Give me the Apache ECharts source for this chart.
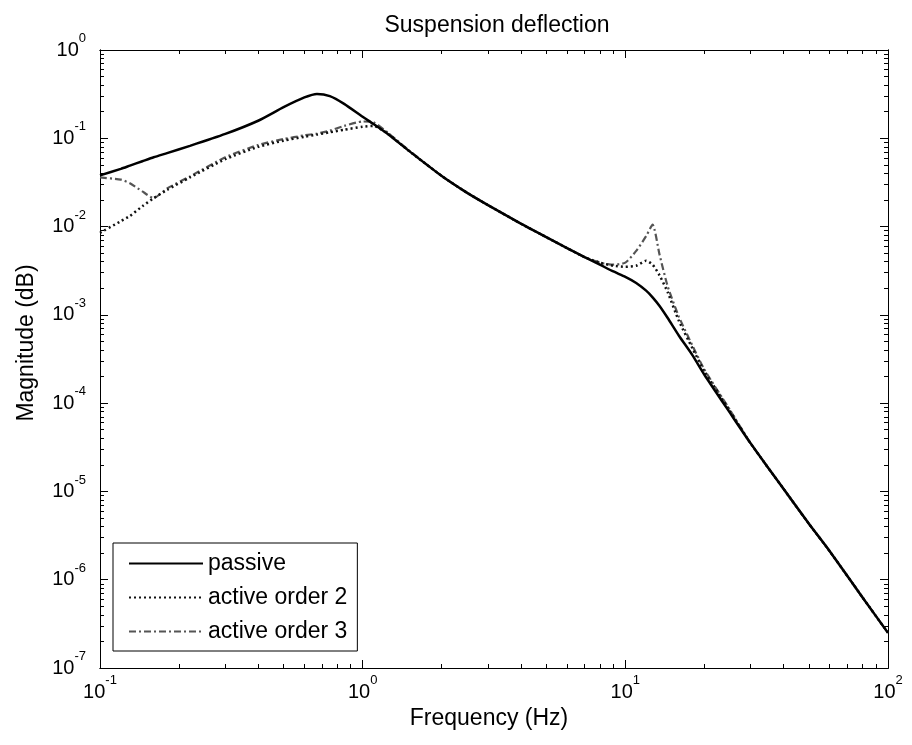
<!DOCTYPE html>
<html>
<head>
<meta charset="utf-8">
<title>Suspension deflection</title>
<script src="https://cdn.jsdelivr.net/npm/echarts@6/dist/echarts.min.js"></script>
<style>
  html, body { margin: 0; padding: 0; background: #fff; }
  #main { width: 912px; height: 745px; }
</style>
</head>
<body>
<div id="main"></div>
<script>
// frequency points (Hz)
var freq = [0.1, 0.12, 0.13, 0.145, 0.16, 0.18, 0.22, 0.3, 0.4, 0.5, 0.6, 0.67, 0.75, 0.85, 1.0, 1.1, 1.25, 1.5,
    2, 2.5, 3, 4, 5, 6, 7, 8, 9, 10, 11, 12, 12.7, 13.5, 14.5, 16, 18, 20, 25, 30, 40, 50, 60, 80, 100];

var passive = [0.038, 0.045, 0.049, 0.055, 0.061, 0.068, 0.082, 0.112, 0.158, 0.225, 0.29, 0.318, 0.30, 0.245,
    0.175, 0.145, 0.111, 0.072, 0.0374, 0.0241, 0.0175, 0.0108, 0.0076, 0.0057, 0.0045, 0.0037, 0.0031, 0.0027,
    0.0023, 0.00188, 0.00158, 0.00126, 0.00092, 0.00058, 0.00035, 0.00021, 7.8e-5, 3.5e-5, 1.07e-5, 4.3e-6,
    2.1e-6, 6.3e-7, 2.5e-7];

var activeOrder2 = [0.0085, 0.0115, 0.0132, 0.017, 0.021, 0.026, 0.036, 0.058, 0.08, 0.094, 0.104, 0.11, 0.117,
    0.125, 0.135, 0.138, 0.112, 0.072, 0.0374, 0.0241, 0.0175, 0.0108, 0.0076, 0.0057, 0.0045, 0.0039, 0.0036,
    0.0035, 0.0036, 0.0041, 0.0037, 0.0028, 0.0018, 0.00085, 0.00042, 0.00023, 8.2e-5, 3.5e-5, 1.07e-5, 4.3e-6,
    2.1e-6, 6.3e-7, 2.5e-7];

var activeOrder3 = [0.036, 0.034, 0.031, 0.025, 0.021, 0.027, 0.037, 0.061, 0.084, 0.098, 0.108, 0.113, 0.122,
    0.138, 0.155, 0.152, 0.115, 0.073, 0.0374, 0.0241, 0.0175, 0.0108, 0.0076, 0.0057, 0.0045, 0.0039, 0.0037,
    0.0039, 0.0053, 0.0078, 0.0105, 0.0048, 0.0021, 0.00095, 0.00045, 0.00024, 8.4e-5, 3.5e-5, 1.07e-5, 4.3e-6,
    2.1e-6, 6.3e-7, 2.5e-7];

// axis ticks
var xMajor = [0.1, 1, 10, 100];
var xMinor = [0.2, 0.3, 0.4, 0.5, 0.6, 0.7, 0.8, 0.9, 2, 3, 4, 5, 6, 7, 8, 9, 20, 30, 40, 50, 60, 70, 80, 90];
var yMajor = [1e-7, 1e-6, 1e-5, 1e-4, 1e-3, 1e-2, 1e-1, 1];
var yMinor = [];
for (var d = -7; d < 0; d++) {
    for (var m = 2; m <= 9; m++) {
        yMinor.push(m * Math.pow(10, d));
    }
}

var fontFamily = '"Liberation Sans", Arial, sans-serif';

function pairs(xs, ys) {
    var out = [];
    for (var i = 0; i < xs.length; i++) {
        out.push([xs[i], ys[i]]);
    }
    return out;
}

// 10^n style tick label
function powLabel(v) {
    var e = Math.round(Math.log(v) / Math.LN10);
    return '{b|10}{s|' + e + '}';
}

var richLabel = {
    b: { fontSize: 20, fontFamily: fontFamily, color: '#000', padding: [8, 0, 8, 0] },
    s: { fontSize: 13, fontFamily: fontFamily, color: '#000', verticalAlign: 'top' }
};

// one log axis; several are stacked to get the matlab box with major + minor ticks
function logAxis(pos, min, max, ticks, len, withLabels) {
    return {
        type: 'log',
        position: pos,
        min: min,
        max: max,
        logBase: 10,
        splitLine: { show: false },
        axisLine: { show: true, onZero: false, lineStyle: { color: '#000', width: 1 } },
        axisTick: { show: true, inside: true, length: len, customValues: ticks, lineStyle: { color: '#000', width: 1 } },
        minorTick: { show: false },
        axisLabel: withLabels ? {
            show: true,
            customValues: ticks,
            formatter: powLabel,
            rich: richLabel,
            margin: pos === 'left' ? 14 : 6
        } : { show: false }
    };
}

var chart = echarts.init(document.getElementById('main'));

var xAxes = [
    logAxis('bottom', 0.1, 100, xMajor, 8, true),
    logAxis('top', 0.1, 100, xMajor, 8, false),
    logAxis('bottom', 0.1, 100, xMinor, 4, false),
    logAxis('top', 0.1, 100, xMinor, 4, false)
];
xAxes[0].name = 'Frequency (Hz)';
xAxes[0].nameLocation = 'middle';
xAxes[0].nameGap = 37;
xAxes[0].nameTextStyle = { fontSize: 23, fontFamily: fontFamily, color: '#000', padding: [0, 10, 0, 0] };

var yAxes = [
    logAxis('left', 1e-7, 1, yMajor, 8, true),
    logAxis('right', 1e-7, 1, yMajor, 8, false),
    logAxis('left', 1e-7, 1, yMinor, 4, false),
    logAxis('right', 1e-7, 1, yMinor, 4, false)
];
yAxes[0].name = 'Magnitude (dB)';
yAxes[0].nameLocation = 'middle';
yAxes[0].nameGap = 62;
yAxes[0].nameTextStyle = { fontSize: 23, fontFamily: fontFamily, color: '#000', padding: [0, 0, 0, 32] };

var option = {
    animation: false,
    backgroundColor: '#fff',
    title: {
        text: 'Suspension deflection',
        left: 492,
        top: 9,
        textAlign: 'center',
        textStyle: { fontSize: 23, fontWeight: 'normal', fontFamily: fontFamily, color: '#000' }
    },
    grid: { left: 100, right: 24, top: 50, bottom: 77, containLabel: false, outerBoundsMode: 'none' },
    legend: {
        orient: 'vertical',
        left: 113,
        top: 543,
        padding: [9, 10, 8, 15],
        itemWidth: 74,
        itemHeight: 12,
        itemGap: 11,
        backgroundColor: '#fff',
        borderColor: '#000',
        borderWidth: 1,
        borderRadius: 0,
        itemStyle: { opacity: 0 },
        textStyle: { fontSize: 23, fontFamily: fontFamily, color: '#000' },
        data: ['passive', 'active order 2', 'active order 3']
    },
    xAxis: xAxes,
    yAxis: yAxes,
    series: [
        {
            name: 'passive',
            type: 'line',
            symbol: 'none',
            smooth: 0.2,
            z: 4,
            data: pairs(freq, passive),
            itemStyle: { color: '#000' },
            lineStyle: { color: '#000', width: 2.5 }
        },
        {
            name: 'active order 2',
            type: 'line',
            symbol: 'none',
            smooth: 0.2,
            z: 3,
            data: pairs(freq, activeOrder2),
            itemStyle: { color: '#111' },
            lineStyle: { color: '#111', width: 2.5, type: [2, 3] }
        },
        {
            name: 'active order 3',
            type: 'line',
            symbol: 'none',
            smooth: 0.2,
            z: 2,
            data: pairs(freq, activeOrder3),
            itemStyle: { color: '#555' },
            lineStyle: { color: '#555', width: 2.2, type: [7, 3, 2, 3] }
        }
    ]
};

chart.setOption(option);
</script>
</body>
</html>
